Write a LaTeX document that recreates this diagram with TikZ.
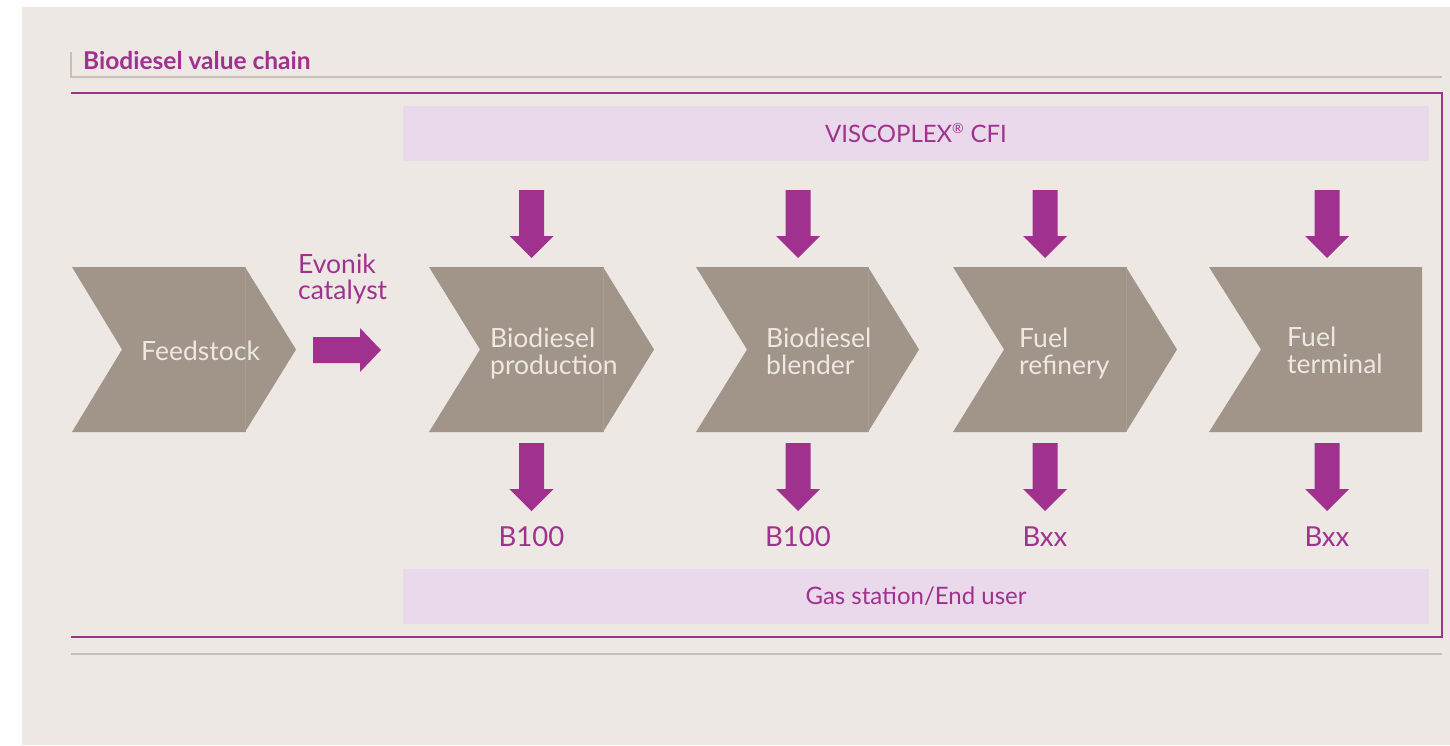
\documentclass[tikz,border=0pt]{standalone}
\usepackage{fontspec}
\setmainfont{Lato}
\definecolor{bgc}{HTML}{EDE8E4}
\definecolor{chevc}{HTML}{A09588}
\definecolor{seamc}{HTML}{A89D91}
\definecolor{vpurple}{HTML}{A0318F}
\definecolor{bandc}{HTML}{EAD9EA}
\definecolor{greyl}{HTML}{C8BFB7}
\definecolor{chevtext}{HTML}{EEE8E3}
\tikzset{
  chevfill/.style={fill=chevc},
  chevlabel/.style={anchor=base west, inner sep=0, text=chevtext, font=\fontsize{26.5}{28}\selectfont},
  plabel/.style={anchor=base, inner sep=0, text=vpurple, font=\fontsize{27.5}{28}\selectfont},
  evlabel/.style={anchor=base west, inner sep=0, text=vpurple, font=\fontsize{26.5}{28}\selectfont},
  bandbox/.style={fill=bandc, inner sep=0, minimum width=1026pt, minimum height=55pt, text=vpurple, font=\fontsize{24}{27}\selectfont},
  darrow/.pic={\fill[vpurple] (-12.5,0) -- (12.5,0) -- (12.5,46) -- (22,46) -- (0,68) -- (-22,46) -- (-12.5,46) -- cycle;}
}
\newcommand\chevshape[4]{%
  \fill[chevfill] (#1,267) -- (#3,267) -- (#4,349.5) -- (#3,432) -- (#1,432) -- (#2,349.5) -- cycle;
  \draw[seamc, line width=0.8pt] (#3,267) -- (#3,432);}
\begin{document}
\begin{tikzpicture}[x=1pt,y=-1pt]
\useasboundingbox (0,0) rectangle (1450,745);
\fill[bgc] (22,7) rectangle (1450,745);

% title and frame lines
\node[anchor=base west, inner sep=0, text=vpurple, font=\bfseries\fontsize{24.5}{27}\selectfont] (title) at (83,69) {Biodiesel value chain};
\draw[greyl, line width=1.6pt] (71,52) -- (71,77) -- (1442,77);
\draw[vpurple, line width=1.6pt] (71,93) -- (1442,93) -- (1442,637) -- (71,637);
\draw[greyl, line width=1.6pt] (71,654) -- (1442,654);

% bands
\node[bandbox] (cfi) at (916,133.5) {VISCOPLEX\textsuperscript{\fontsize{14}{14}\selectfont ®} CFI};
\node[bandbox] (gas) at (916,596.5) {Gas station/End user};

% chevrons
\chevshape{72}{122}{245}{296}
\chevshape{429}{480}{603}{654}
\chevshape{696}{747}{868}{919}
\chevshape{953}{1004}{1126}{1177}
\fill[chevfill] (1209,267) -- (1422,267) -- (1422,432) -- (1209,432) -- (1261,349.5) -- cycle;

\node[chevlabel] (feed) at (141,360) {Feedstock};
\node[chevlabel] (prod1) at (490,347) {Biodiesel};
\node[chevlabel] (prod2) at (490,374) {production};
\node[chevlabel] (blend1) at (766,347) {Biodiesel};
\node[chevlabel] (blend2) at (766,374) {blender};
\node[chevlabel] (ref1) at (1019,347) {Fuel};
\node[chevlabel] (ref2) at (1019,374) {refinery};
\node[chevlabel] (term1) at (1287,346) {Fuel};
\node[chevlabel] (term2) at (1287,373) {terminal};

% Evonik catalyst
\node[evlabel] (ev1) at (298,273) {Evonik};
\node[evlabel] (ev2) at (298,299) {catalyst};
\fill[vpurple] (313,337) -- (360,337) -- (360,328) -- (381,350) -- (360,372) -- (360,363) -- (313,363) -- cycle;

% down arrows
\foreach \xx in {531.5,798,1045,1327} {
  \pic at (\xx,190) {darrow};
  \pic at (\xx,443) {darrow};
}

% output labels
\node[plabel] (o1) at (531.5,546) {B100};
\node[plabel] (o2) at (798,546) {B100};
\node[plabel] (o3) at (1045,546) {Bxx};
\node[plabel] (o4) at (1327,546) {Bxx};
\end{tikzpicture}
\end{document}
